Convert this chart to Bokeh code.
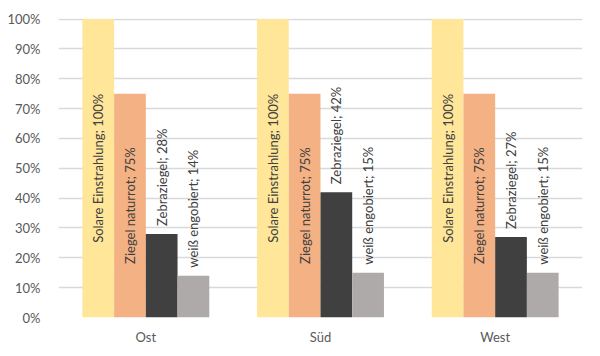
import math
from bokeh.plotting import figure
from bokeh.models import ColumnDataSource, FactorRange, Range1d, NumeralTickFormatter, FixedTicker
from bokeh.transform import dodge
from bokeh.core.properties import value
from bokeh.embed import file_html
from bokeh.resources import INLINE

categories = ["Ost", "Süd", "West"]
series_names = ["Solare Einstrahlung", "Ziegel naturrot", "Zebraziegel", "weiß engobiert"]
solare = [1.00, 1.00, 1.00]
naturrot = [0.75, 0.75, 0.75]
zebra = [0.28, 0.42, 0.27]
engobiert = [0.14, 0.15, 0.15]
y_ticks = [0, 0.1, 0.2, 0.3, 0.4, 0.5, 0.6, 0.7, 0.8, 0.9, 1.0]

series_values = [solare, naturrot, zebra, engobiert]
colors = ["#FFE699", "#F4B183", "#404040", "#AEAAAA"]
offsets = [-0.2725, -0.0908, 0.0908, 0.2725]
label_inside = [True, True, False, False]
bar_w = 0.1815
FONT = "Lato"

p = figure(width=600, height=356, x_range=FactorRange(*categories, range_padding=0),
           y_range=Range1d(0, 1.002), output_backend="svg", toolbar_location=None,
           min_border_left=58, min_border_right=18, min_border_top=18, min_border_bottom=39)
p.outline_line_color = None
p.background_fill_color = "white"
p.border_fill_color = "white"

p.xgrid.grid_line_color = None
p.ygrid.grid_line_color = "#D9D9D9"
p.ygrid.grid_line_width = 1.3
p.ygrid.ticker = FixedTicker(ticks=y_ticks)

p.yaxis.ticker = FixedTicker(ticks=y_ticks)
p.yaxis.formatter = NumeralTickFormatter(format="0%")
p.yaxis.axis_line_color = None
p.yaxis.major_tick_line_color = None
p.yaxis.minor_tick_line_color = None
p.yaxis.major_label_text_font = FONT
p.yaxis.major_label_text_font_size = "13px"
p.yaxis.major_label_text_color = "#595959"
p.yaxis.major_label_standoff = 12

p.xaxis.axis_line_color = None
p.xaxis.major_tick_line_color = None
p.xaxis.major_label_text_font = FONT
p.xaxis.major_label_text_font_size = "13px"
p.xaxis.major_label_text_color = "#595959"
p.xaxis.major_label_standoff = 5

for name, vals, col, off, inside in zip(series_names, series_values, colors, offsets, label_inside):
    labels = [f"{name}; {round(v*100)}%" for v in vals]
    ly = [v / 2 for v in vals] if inside else list(vals)
    src = ColumnDataSource(dict(x=categories, top=vals, ly=ly, label=labels))
    p.vbar(x=dodge("x", off, range=p.x_range), top="top", bottom=0, width=bar_w,
           source=src, fill_color=col, line_color=None)
    p.text(x=dodge("x", off, range=p.x_range), y="ly", text="label", source=src,
           angle=math.pi / 2, text_font=value(FONT), text_font_size="13px",
           text_color="#404040", text_baseline="middle",
           text_align="center" if inside else "left",
           y_offset=0 if inside else -8)

open("out.html", "w").write(file_html(p, INLINE))
